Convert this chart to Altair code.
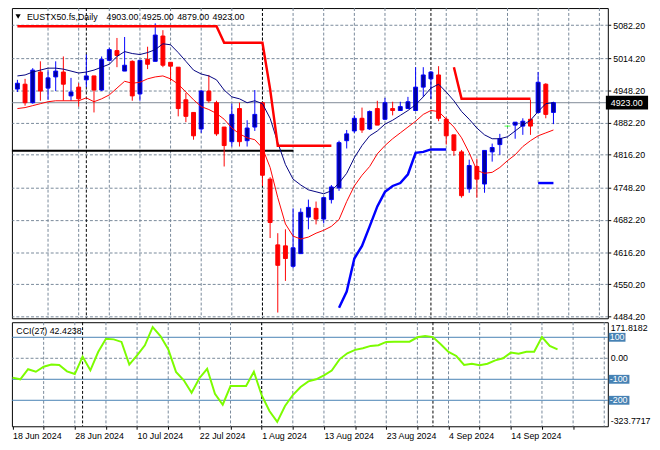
import altair as alt
import pandas as pd
import numpy as np

# ---------------- data ----------------
bars = list(range(71))
opens = [4951, 4961, 4923, 4986, 4953, 4976, 4986, 4937, 4955, 4970,
         4978, 4949, 5010, 5030, 4988, 5008, 4941, 5012, 5008, 5060,
         5006, 4996, 4929, 4903, 4869, 4947, 4923, 4873, 4843, 4911,
         4845, 4873, 4923, 4766, 4631, 4629, 4587, 4613, 4688, 4706,
         4684, 4724, 4748, 4845, 4865, 4891, 4869, 4911, 4889, 4911,
         4907, 4911, 4907, 4955, 4972, 4980, 4889, 4857, 4822, 4746,
         4792, 4756, 4822, 4837, 4875, 4877, 4875, 4889, 4903, 4961,
         4903]
highs = [4970, 4972, 4994, 5008, 4990, 5008, 5018, 4974, 4963, 5022,
         4978, 5018, 5036, 5056, 5058, 5010, 5010, 5038, 5086, 5072,
         5006, 4996, 4943, 4903, 4949, 4980, 4927, 4873, 4921, 4923,
         4887, 4949, 4923, 4770, 4655, 4663, 4706, 4706, 4724, 4720,
         4730, 4754, 4845, 4867, 4897, 4913, 4907, 4927, 4933, 4925,
         4925, 4935, 4996, 4996, 4988, 4998, 4893, 4857, 4826, 4806,
         4808, 4825, 4839, 4859, 4876, 4883, 4891, 4929, 4986, 4963,
         4925]
lows = [4945, 4917, 4921, 4927, 4929, 4947, 4927, 4927, 4915, 4955,
        4903, 4947, 5008, 4996, 4988, 4927, 4927, 4992, 5008, 4996,
        4967, 4895, 4883, 4847, 4861, 4923, 4855, 4792, 4833, 4833,
        4833, 4865, 4752, 4645, 4492, 4557, 4583, 4613, 4663, 4673,
        4675, 4716, 4742, 4829, 4861, 4861, 4867, 4877, 4887, 4897,
        4907, 4911, 4907, 4935, 4931, 4885, 4837, 4814, 4728, 4738,
        4728, 4738, 4802, 4816, 4874, 4849, 4857, 4857, 4901, 4891,
        4879]
closes = [4963, 4923, 4990, 4947, 4974, 4988, 4961, 4945, 4931, 4978,
          4949, 5012, 5032, 5020, 5000, 4937, 5010, 5002, 5062, 5000,
          4998, 4911, 4895, 4855, 4947, 4927, 4859, 4835, 4899, 4843,
          4871, 4899, 4774, 4677, 4589, 4603, 4625, 4698, 4708, 4684,
          4728, 4750, 4841, 4859, 4891, 4867, 4905, 4877, 4923, 4907,
          4915, 4925, 4955, 4980, 4986, 4891, 4855, 4825, 4732, 4794,
          4766, 4825, 4831, 4849, 4875, 4883, 4885, 4875, 4965, 4899,
          4923]
ma_fast = [4978, 4980, 4986, 4990, 4994, 4994, 4992, 4988, 4984, 4986,
           4990, 4996, 5002, 5018, 5028, 5024, 5022, 5026, 5032, 5044,
           5042, 5026, 5008, 4990, 4982, 4978, 4970, 4949, 4935, 4931,
           4923, 4927, 4921, 4891, 4841, 4796, 4766, 4754, 4744, 4740,
           4736, 4742, 4758, 4778, 4810, 4835, 4855, 4865, 4879, 4887,
           4897, 4907, 4919, 4935, 4953, 4961, 4945, 4927, 4905, 4889,
           4871, 4857, 4849, 4849, 4853, 4865, 4877, 4887, 4905, 4921,
           4923]
ma_slow = [4911, 4913, 4917, 4921, 4925, 4927, 4927, 4927, 4927, 4933,
           4925, 4931, 4939, 4953, 4967, 4963, 4965, 4972, 4976, 4978,
           4972, 4961, 4945, 4929, 4915, 4909, 4901, 4889, 4871, 4859,
           4851, 4847, 4830, 4790, 4728, 4674, 4649, 4643, 4647, 4655,
           4661, 4669, 4683, 4720, 4752, 4774, 4792, 4818, 4835, 4849,
           4861, 4873, 4885, 4899, 4907, 4905, 4889, 4873, 4851, 4820,
           4784, 4778, 4780, 4790, 4804, 4816, 4833, 4845, 4855, 4861,
           4867]
stop_red = [5080, 5080, 5080, 5080, 5080, 5080, 5080, 5080, 5080, 5080,
            5080, 5080, 5080, 5080, 5080, 5080, 5080, 5080, 5080, 5080,
            5080, 5080, 5080, 5080, 5080, 5080, 5080, 5046, 5046, 5046,
            5046, 5046, 5046, 4951, 4834.5, 4834.5, 4834.5, 4834.5, 4834.5, 4834.5,
            4834.5, 4834.5, None, None, None, None, None, None, None, None,
            None, None, None, None, None, None, None, 4996, 4931, 4931,
            4931, 4931, 4931, 4931, 4931, 4931, 4931, 4931, None, None,
            None]
stop_blue = [None, None, None, None, None, None, None, None, None, None,
             None, None, None, None, None, None, None, None, None, None,
             None, None, None, None, None, None, None, None, None, None,
             None, None, None, None, None, None, None, None, None, None,
             None, None, 4502, 4535, 4603, 4629, 4669, 4710, 4740, 4752,
             4758, 4776, 4820, 4822, 4827, 4827, 4827, None, None, None,
             None, None, None, None, None, None, None, None, 4758, 4758,
             4758]
cci = [-92, -100, -52, -64, -40, -30, -32, -62, -75, 8,
       -57, 30, 93, 90, 78, -30, 14, 62, 149, 106,
       43, -65, -105, -164, -95, -50, -169, -221, -132, -132,
       -132, -64, -176, -251, -303, -227, -175, -137, -110, -100,
       -81, -58, -5, 24, 40, 48, 59, 62, 78, 79,
       79, 79, 100, 106, 101, 67, 30, 11, -32, -26,
       -33, -26, -10, 0, 27, 22, 31, 31, 101, 59,
       42.4238]

date_bars = [0, 8, 16, 24, 32, 40, 48, 56, 64]
date_labels = ["18 Jun 2024", "28 Jun 2024", "10 Jul 2024", "22 Jul 2024",
               "1 Aug 2024", "13 Aug 2024", "23 Aug 2024", "4 Sep 2024",
               "14 Sep 2024"]
price_ticks = [5082.2, 5014.2, 4948.2, 4882.2, 4816.2, 4748.2, 4682.2,
               4616.2, 4550.2, 4484.2]
grid_bars = [4, 8, 12, 16, 20, 24, 28, 32, 36, 40, 44, 48, 52, 56, 60,
             64, 68, 72, 76]
separator_bars = [9, 32, 54]
last_price = 4923.00
support_price = 4824.5
support_from, support_to = -2, 36.05
header_texts = ["EUSTX50.fs,Daily", "4903.00", "4925.00", "4879.00", "4923.00"]
cci_solid_levels = [100, -100, -200]
cci_dashed_levels = [0]
cci_range = [-323.7717, 171.8182]
cci_title = "CCI(27) 42.4238"

# ---------------- layout / style ----------------
FONT = "Liberation Sans"
GRID = "#778899"
W, H1, H2 = 607, 316, 106
x_dom = [-0.075, 76.46]
y_dom = [4480.2, 5117.4]

df = pd.DataFrame(dict(bar=bars, open=opens, high=highs, low=lows,
                       close=closes, ma_fast=ma_fast, ma_slow=ma_slow, cci=cci))
df["dir"] = np.where(df.close > df.open, "up", np.where(df.close < df.open, "down", "doji"))


def seg_frame(vals):
    s = pd.DataFrame({"bar": bars, "v": vals})
    s["seg"] = s["v"].isna().cumsum()
    return s.dropna()


red_df = seg_frame(stop_red)
blue_df = seg_frame(stop_blue)
grid_df = pd.DataFrame({"bar": grid_bars})
sep_df = pd.DataFrame({"bar": separator_bars})

xs = alt.Scale(domain=x_dom, nice=False, zero=False)
ys = alt.Scale(domain=y_dom, nice=False, zero=False)
X = alt.X("bar:Q", scale=xs, axis=None)

yaxis = alt.Axis(orient="right", values=price_ticks, format=".2f", title=None,
                 grid=True, gridDash=[3, 2], gridColor=GRID, domain=False,
                 ticks=True, tickSize=3, tickColor="black", labelFont=FONT,
                 labelFontSize=9, labelColor="black", labelPadding=2)


def YM(field):
    return alt.Y(field, scale=ys, axis=yaxis)


vgrid = alt.Chart(grid_df).mark_rule(color=GRID, strokeDash=[3, 2], strokeWidth=1).encode(x=X)
seps = alt.Chart(sep_df).mark_rule(color="black", strokeDash=[3, 2], strokeWidth=1).encode(x=X)

price_line = alt.Chart(pd.DataFrame({"price": [last_price]})).mark_rule(
    color="#7f8a96", strokeWidth=1).encode(y=YM("price:Q"))

support = alt.Chart(pd.DataFrame({"x0": [support_from], "x1": [support_to],
                                  "price": [support_price]})).mark_rule(
    color="black", strokeWidth=2, clip=True).encode(
    x=alt.X("x0:Q", scale=xs, axis=None), x2="x1:Q", y=YM("price:Q"))

red_stop = alt.Chart(red_df).mark_line(color="#ff0000", strokeWidth=2.5).encode(
    x=X, y=YM("v:Q"), detail="seg:N")
blue_stop = alt.Chart(blue_df).mark_line(color="#0000ff", strokeWidth=2.5).encode(
    x=X, y=YM("v:Q"), detail="seg:N")
slow = alt.Chart(df).mark_line(color="#ff0000", strokeWidth=1).encode(x=X, y=YM("ma_slow:Q"))
fast = alt.Chart(df).mark_line(color="#000080", strokeWidth=1).encode(x=X, y=YM("ma_fast:Q"))

wicks = alt.Chart(df).mark_rule(strokeWidth=1).encode(
    x=X, y=YM("low:Q"), y2="high:Q",
    color=alt.Color("dir:N", scale=alt.Scale(domain=["up", "down", "doji"],
                                             range=["#0000ff", "#ff0000", "#00ff00"]), legend=None))
bodies = alt.Chart(df).transform_filter("datum.dir != 'doji'").mark_bar(size=4, strokeWidth=1).encode(
    x=X, y=YM("open:Q"), y2="close:Q",
    fill=alt.Fill("dir:N", scale=alt.Scale(domain=["up", "down"], range=["#00009c", "#ff0000"]), legend=None),
    stroke=alt.Stroke("dir:N", scale=alt.Scale(domain=["up", "down"], range=["#0000ff", "#ff0000"]), legend=None))
doji = alt.Chart(df).transform_filter("datum.dir == 'doji'").mark_tick(
    orient="horizontal", size=6, thickness=1, color="#00ff00").encode(x=X, y=YM("close:Q"))

hdr_df = pd.DataFrame({"text": header_texts, "px": [15.3, 96.3, 132.3, 168.3, 204.3]})
header = alt.Chart(hdr_df).mark_text(align="left", baseline="middle", font=FONT,
                                     fontSize=9, color="black").encode(
    x=alt.X("px:Q", scale=None), y=alt.value(9), text="text:N")
tri = alt.Chart(pd.DataFrame({"a": [1]})).mark_point(
    shape="triangle-down", filled=True, size=28, color="black", opacity=1).encode(
    x=alt.value(6.3), y=alt.value(8.5))

box_df = pd.DataFrame({"price": [last_price], "t": ["%.2f" % last_price]})
pbox = alt.Chart(box_df).mark_point(
    shape="M-1,-0.326L1,-0.326L1,0.326L-1,0.326Z", size=43 ** 2, filled=True,
    color="black", opacity=1).encode(x=alt.value(W + 19.5), y=YM("price:Q"))
ptext = alt.Chart(box_df).mark_text(align="left", baseline="middle", font=FONT,
                                    fontSize=9, color="white").encode(
    x=alt.value(W + 3), y=YM("price:Q"), text="t:N")

main = alt.layer(vgrid, seps, price_line, support, wicks, bodies, doji,
                 slow, fast, red_stop, blue_stop, header, tri, pbox, ptext
                 ).properties(width=W, height=H1)

# ---------------- CCI panel ----------------
ys2 = alt.Scale(domain=cci_range, nice=False, zero=False)
expr = ""
for b, lab in zip(date_bars, date_labels):
    expr += "datum.value == %d ? '%s' : " % (b, lab)
expr += "''"
xaxis_cci = alt.Axis(values=list(range(0, 73, 4)), grid=False, domain=False,
                     ticks=True, tickSize=3, tickColor="black", labelExpr=expr,
                     labelAlign="left", labelFont=FONT, labelFontSize=9,
                     labelColor="black", labelPadding=2, labelOverlap=False,
                     labelFlush=False, labelBound=False, title=None)
XC = alt.X("bar:Q", scale=xs, axis=xaxis_cci)
YC = alt.Y("v:Q", scale=ys2, axis=None)

vgrid_c = alt.Chart(grid_df).mark_rule(color=GRID, strokeDash=[3, 2], strokeWidth=1).encode(x=XC)
seps_c = alt.Chart(sep_df).mark_rule(color="black", strokeDash=[3, 2], strokeWidth=1).encode(x=XC)
lev_solid = alt.Chart(pd.DataFrame({"v": cci_solid_levels})).mark_rule(
    color="#4682b4", strokeWidth=1).encode(y=YC)
lev_dash = alt.Chart(pd.DataFrame({"v": cci_dashed_levels})).mark_rule(
    color=GRID, strokeDash=[3, 2], strokeWidth=1).encode(y=YC)
cci_line = alt.Chart(df).mark_line(color="#7cfc00", strokeWidth=2).encode(
    x=XC, y=alt.Y("cci:Q", scale=ys2, axis=None))
cci_t = alt.Chart(pd.DataFrame({"t": [cci_title]})).mark_text(
    align="left", baseline="middle", font=FONT, fontSize=9, color="black").encode(
    x=alt.value(4.5), y=alt.value(8.5), text="t:N")


def plain(v, t, dy):
    return alt.Chart(pd.DataFrame({"v": [v], "t": [t]})).mark_text(
        align="left", baseline="middle", font=FONT, fontSize=9, color="black", dy=dy
    ).encode(x=alt.value(W + 3), y=YC, text="t:N")


top_lbl = plain(cci_range[1], "%.4f" % cci_range[1], 5.5)
zero_lbl = plain(0, "0.00", 0)
bot_lbl = plain(cci_range[0], "%.4f" % cci_range[0], -5)

b1 = pd.DataFrame({"v": [100], "t": ["100"]})
b2 = pd.DataFrame({"v": [-100, -200], "t": ["-100", "-200"]})
box1 = alt.Chart(b1).mark_point(shape="M-1,-0.53L1,-0.53L1,0.53L-1,0.53Z", size=17 ** 2,
                                filled=True, color="#4682b4", opacity=1).encode(
    x=alt.value(W + 9.5), y=YC)
box2 = alt.Chart(b2).mark_point(shape="M-1,-0.43L1,-0.43L1,0.43L-1,0.43Z", size=21 ** 2,
                                filled=True, color="#4682b4", opacity=1).encode(
    x=alt.value(W + 11.5), y=YC)
blbl = alt.Chart(pd.concat([b1, b2])).mark_text(align="left", baseline="middle", font=FONT,
                                                fontSize=9, color="white").encode(
    x=alt.value(W + 2), y=YC, text="t:N")

cci_panel = alt.layer(vgrid_c, seps_c, lev_dash, lev_solid, cci_line, cci_t,
                      top_lbl, zero_lbl, bot_lbl, box1, box2, blbl
                      ).properties(width=W, height=H2)

chart = alt.vconcat(main, cci_panel, spacing=4, bounds="flush").properties(
    padding={"top": -5, "left": 0, "right": 0, "bottom": 0}, background="white"
).configure_view(stroke="black", strokeWidth=1).configure_text(font=FONT)

chart.save("out.html", embed_options={"renderer": "svg", "actions": False})
